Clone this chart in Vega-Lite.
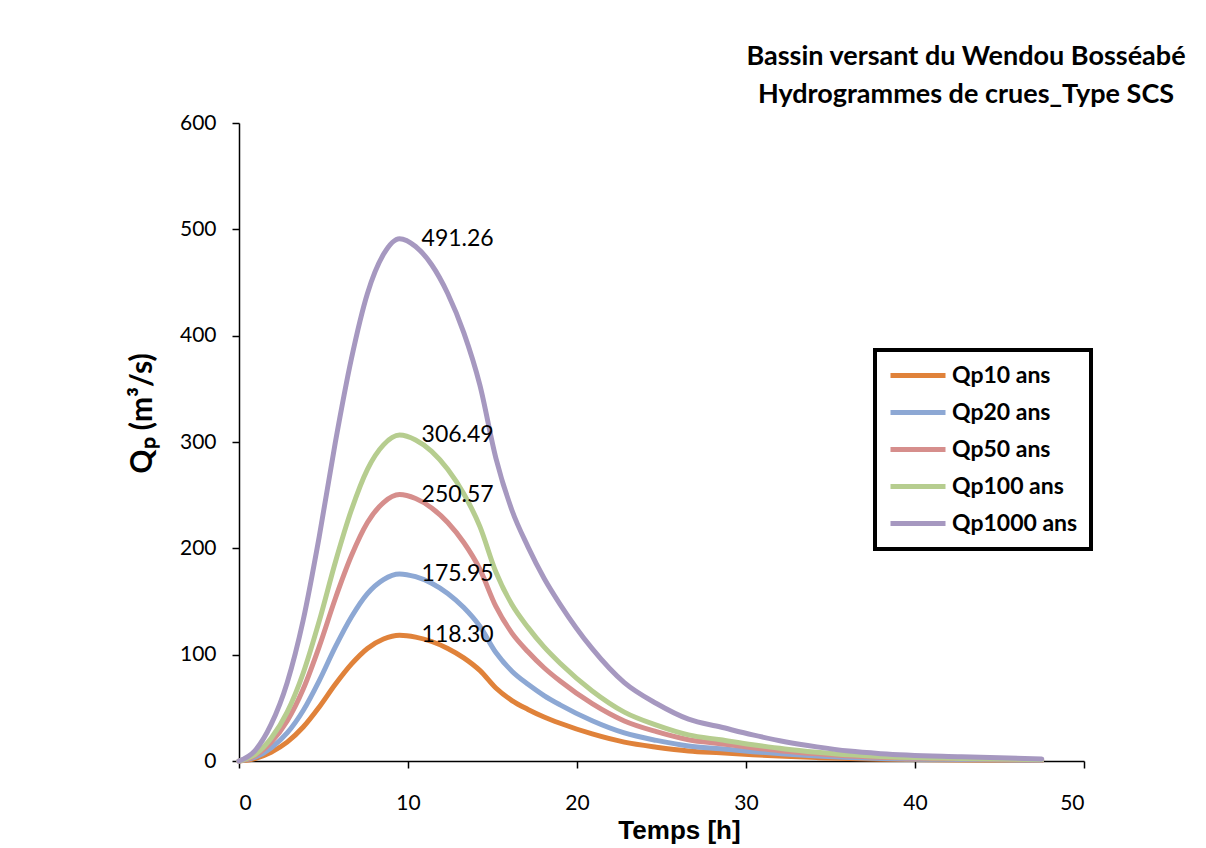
{
  "$schema": "https://vega.github.io/schema/vega-lite/v6.json",
  "width": 845,
  "height": 638,
  "autosize": {"type": "none"},
  "padding": {"left": 239, "top": 123, "right": 122, "bottom": 87},
  "background": "white",
  "title": {
    "text": ["Bassin versant du Wendou Bosséabé", "Hydrogrammes de crues_Type SCS"],
    "anchor": "end",
    "align": "center",
    "frame": "group",
    "dx": -118,
    "offset": 3,
    "font": "Lato",
    "fontSize": 27,
    "fontWeight": "bold",
    "lineHeight": 38,
    "color": "black"
  },
  "datasets": {
    "hydro": [
      {"t": 0, "Qp10 ans": 0, "Qp20 ans": 0, "Qp50 ans": 0, "Qp100 ans": 0, "Qp1000 ans": 0},
      {"t": 0.95, "Qp10 ans": 2.37, "Qp20 ans": 3.52, "Qp50 ans": 5.01, "Qp100 ans": 6.13, "Qp1000 ans": 9.83},
      {"t": 1.9, "Qp10 ans": 8.28, "Qp20 ans": 12.32, "Qp50 ans": 17.54, "Qp100 ans": 21.45, "Qp1000 ans": 34.39},
      {"t": 2.85, "Qp10 ans": 17.75, "Qp20 ans": 26.39, "Qp50 ans": 37.59, "Qp100 ans": 45.97, "Qp1000 ans": 73.69},
      {"t": 3.8, "Qp10 ans": 31.94, "Qp20 ans": 47.51, "Qp50 ans": 67.65, "Qp100 ans": 82.75, "Qp1000 ans": 132.64},
      {"t": 4.75, "Qp10 ans": 50.87, "Qp20 ans": 75.66, "Qp50 ans": 107.75, "Qp100 ans": 131.79, "Qp1000 ans": 211.24},
      {"t": 5.7, "Qp10 ans": 72.16, "Qp20 ans": 107.33, "Qp50 ans": 152.85, "Qp100 ans": 186.96, "Qp1000 ans": 299.67},
      {"t": 6.65, "Qp10 ans": 91.09, "Qp20 ans": 135.48, "Qp50 ans": 192.94, "Qp100 ans": 236.0, "Qp1000 ans": 378.27},
      {"t": 7.6, "Qp10 ans": 105.88, "Qp20 ans": 157.48, "Qp50 ans": 224.26, "Qp100 ans": 274.31, "Qp1000 ans": 439.68},
      {"t": 8.55, "Qp10 ans": 114.75, "Qp20 ans": 170.67, "Qp50 ans": 243.05, "Qp100 ans": 297.3, "Qp1000 ans": 476.52},
      {"t": 9.5, "Qp10 ans": 118.3, "Qp20 ans": 175.95, "Qp50 ans": 250.57, "Qp100 ans": 306.49, "Qp1000 ans": 491.26},
      {"t": 10.45, "Qp10 ans": 116.53, "Qp20 ans": 173.31, "Qp50 ans": 246.81, "Qp100 ans": 301.89, "Qp1000 ans": 483.89},
      {"t": 11.4, "Qp10 ans": 112.39, "Qp20 ans": 167.15, "Qp50 ans": 238.04, "Qp100 ans": 291.17, "Qp1000 ans": 466.7},
      {"t": 12.35, "Qp10 ans": 105.88, "Qp20 ans": 157.48, "Qp50 ans": 224.26, "Qp100 ans": 274.31, "Qp1000 ans": 439.68},
      {"t": 13.3, "Qp10 ans": 97.01, "Qp20 ans": 144.28, "Qp50 ans": 205.47, "Qp100 ans": 251.32, "Qp1000 ans": 402.83},
      {"t": 14.25, "Qp10 ans": 85.18, "Qp20 ans": 126.68, "Qp50 ans": 180.41, "Qp100 ans": 220.67, "Qp1000 ans": 353.71},
      {"t": 15.2, "Qp10 ans": 68.61, "Qp20 ans": 102.05, "Qp50 ans": 145.33, "Qp100 ans": 177.76, "Qp1000 ans": 284.93},
      {"t": 16.15, "Qp10 ans": 56.78, "Qp20 ans": 84.46, "Qp50 ans": 120.27, "Qp100 ans": 147.12, "Qp1000 ans": 235.8},
      {"t": 17.1, "Qp10 ans": 48.5, "Qp20 ans": 72.14, "Qp50 ans": 102.73, "Qp100 ans": 125.66, "Qp1000 ans": 201.42},
      {"t": 18.05, "Qp10 ans": 41.41, "Qp20 ans": 61.58, "Qp50 ans": 87.7, "Qp100 ans": 107.27, "Qp1000 ans": 171.94},
      {"t": 19, "Qp10 ans": 35.49, "Qp20 ans": 52.79, "Qp50 ans": 75.17, "Qp100 ans": 91.95, "Qp1000 ans": 147.38},
      {"t": 20.9, "Qp10 ans": 25.43, "Qp20 ans": 37.83, "Qp50 ans": 53.87, "Qp100 ans": 65.9, "Qp1000 ans": 105.62},
      {"t": 22.8, "Qp10 ans": 17.75, "Qp20 ans": 26.39, "Qp50 ans": 37.59, "Qp100 ans": 45.97, "Qp1000 ans": 73.69},
      {"t": 24.7, "Qp10 ans": 13.01, "Qp20 ans": 19.35, "Qp50 ans": 27.56, "Qp100 ans": 33.71, "Qp1000 ans": 54.04},
      {"t": 26.6, "Qp10 ans": 9.46, "Qp20 ans": 14.08, "Qp50 ans": 20.05, "Qp100 ans": 24.52, "Qp1000 ans": 39.3},
      {"t": 28.5, "Qp10 ans": 7.69, "Qp20 ans": 11.44, "Qp50 ans": 16.29, "Qp100 ans": 19.92, "Qp1000 ans": 31.93},
      {"t": 30.4, "Qp10 ans": 5.92, "Qp20 ans": 8.8, "Qp50 ans": 12.53, "Qp100 ans": 15.32, "Qp1000 ans": 24.56},
      {"t": 32.3, "Qp10 ans": 4.38, "Qp20 ans": 6.51, "Qp50 ans": 9.27, "Qp100 ans": 11.34, "Qp1000 ans": 18.18},
      {"t": 34.2, "Qp10 ans": 3.19, "Qp20 ans": 4.75, "Qp50 ans": 6.77, "Qp100 ans": 8.28, "Qp1000 ans": 13.26},
      {"t": 36.1, "Qp10 ans": 2.25, "Qp20 ans": 3.34, "Qp50 ans": 4.76, "Qp100 ans": 5.82, "Qp1000 ans": 9.33},
      {"t": 38, "Qp10 ans": 1.66, "Qp20 ans": 2.46, "Qp50 ans": 3.51, "Qp100 ans": 4.29, "Qp1000 ans": 6.88},
      {"t": 42.75, "Qp10 ans": 0.95, "Qp20 ans": 1.41, "Qp50 ans": 2.0, "Qp100 ans": 2.45, "Qp1000 ans": 3.93},
      {"t": 47.5, "Qp10 ans": 0.47, "Qp20 ans": 0.7, "Qp50 ans": 1.0, "Qp100 ans": 1.23, "Qp1000 ans": 1.97}
    ],
    "peaks": [
      {"serie": "Qp10 ans", "t": 9.5, "Q": 118.3, "label": "118.30"},
      {"serie": "Qp20 ans", "t": 9.5, "Q": 175.95, "label": "175.95"},
      {"serie": "Qp50 ans", "t": 9.5, "Q": 250.57, "label": "250.57"},
      {"serie": "Qp100 ans", "t": 9.5, "Q": 306.49, "label": "306.49"},
      {"serie": "Qp1000 ans", "t": 9.5, "Q": 491.26, "label": "491.26"}
    ]
  },
  "layer": [
    {
      "data": {"name": "hydro"},
      "transform": [
        {"fold": ["Qp10 ans", "Qp20 ans", "Qp50 ans", "Qp100 ans", "Qp1000 ans"], "as": ["serie", "Q"]}
      ],
      "mark": {"type": "line", "strokeWidth": 5, "interpolate": "monotone", "strokeCap": "round", "strokeJoin": "round"},
      "encoding": {
        "x": {
          "field": "t", "type": "quantitative",
          "scale": {"domain": [0, 50], "nice": false},
          "axis": {"values": [0, 10, 20, 30, 40, 50], "labelPadding": 24, "titlePadding": 4, "titleX": 440, "titleFont": "Liberation Sans", "titleFontSize": 26},
          "title": "Temps [h]"
        },
        "y": {
          "field": "Q", "type": "quantitative",
          "scale": {"domain": [0, 600], "nice": false},
          "axis": {"values": [0, 100, 200, 300, 400, 500, 600], "labelPadding": 16, "titlePadding": 22, "titleY": 290, "titleFont": "Lato", "titleFontSize": 30},
          "title": "Qₚ  (m³/s)"
        },
        "color": {
          "field": "serie", "type": "nominal",
          "scale": {
            "domain": ["Qp10 ans", "Qp20 ans", "Qp50 ans", "Qp100 ans", "Qp1000 ans"],
            "range": ["#E0823A", "#8DA8D4", "#D68E8C", "#B6CD8F", "#A698C0"]
          },
          "legend": {
            "orient": "none",
            "legendX": 636,
            "legendY": 227,
            "title": null,
            "strokeColor": "black",
            "fillColor": "white",
            "padding": 13,
            "symbolType": "M-2.75,0H2.75",
            "symbolSize": 400,
            "symbolOffset": 17.5,
            "symbolStrokeWidth": 5,
            "labelFont": "Lato",
            "labelFontSize": 23,
            "labelFontWeight": "bold",
            "labelColor": "black",
            "labelOffset": 21.5,
            "rowPadding": 12,
            "labelLimit": 300,
            "encode": {"legend": {"update": {"strokeWidth": {"value": 4}}}}
          },
          "sort": null
        }
      }
    },
    {
      "data": {"name": "peaks"},
      "mark": {"type": "text", "align": "left", "baseline": "middle", "dx": 22, "font": "Lato", "fontSize": 23, "color": "black"},
      "encoding": {
        "x": {"field": "t", "type": "quantitative"},
        "y": {"field": "Q", "type": "quantitative"},
        "text": {"field": "label"}
      }
    }
  ],
  "config": {
    "view": {"stroke": null},
    "axis": {
      "grid": false,
      "domainColor": "black",
      "domainWidth": 1.5,
      "tickColor": "black",
      "tickWidth": 1.5,
      "tickSize": 7,
      "labelColor": "black",
      "labelFont": "Lato",
      "labelFontSize": 21,
      "titleFontWeight": "bold",
      "titleColor": "black"
    }
  }
}
